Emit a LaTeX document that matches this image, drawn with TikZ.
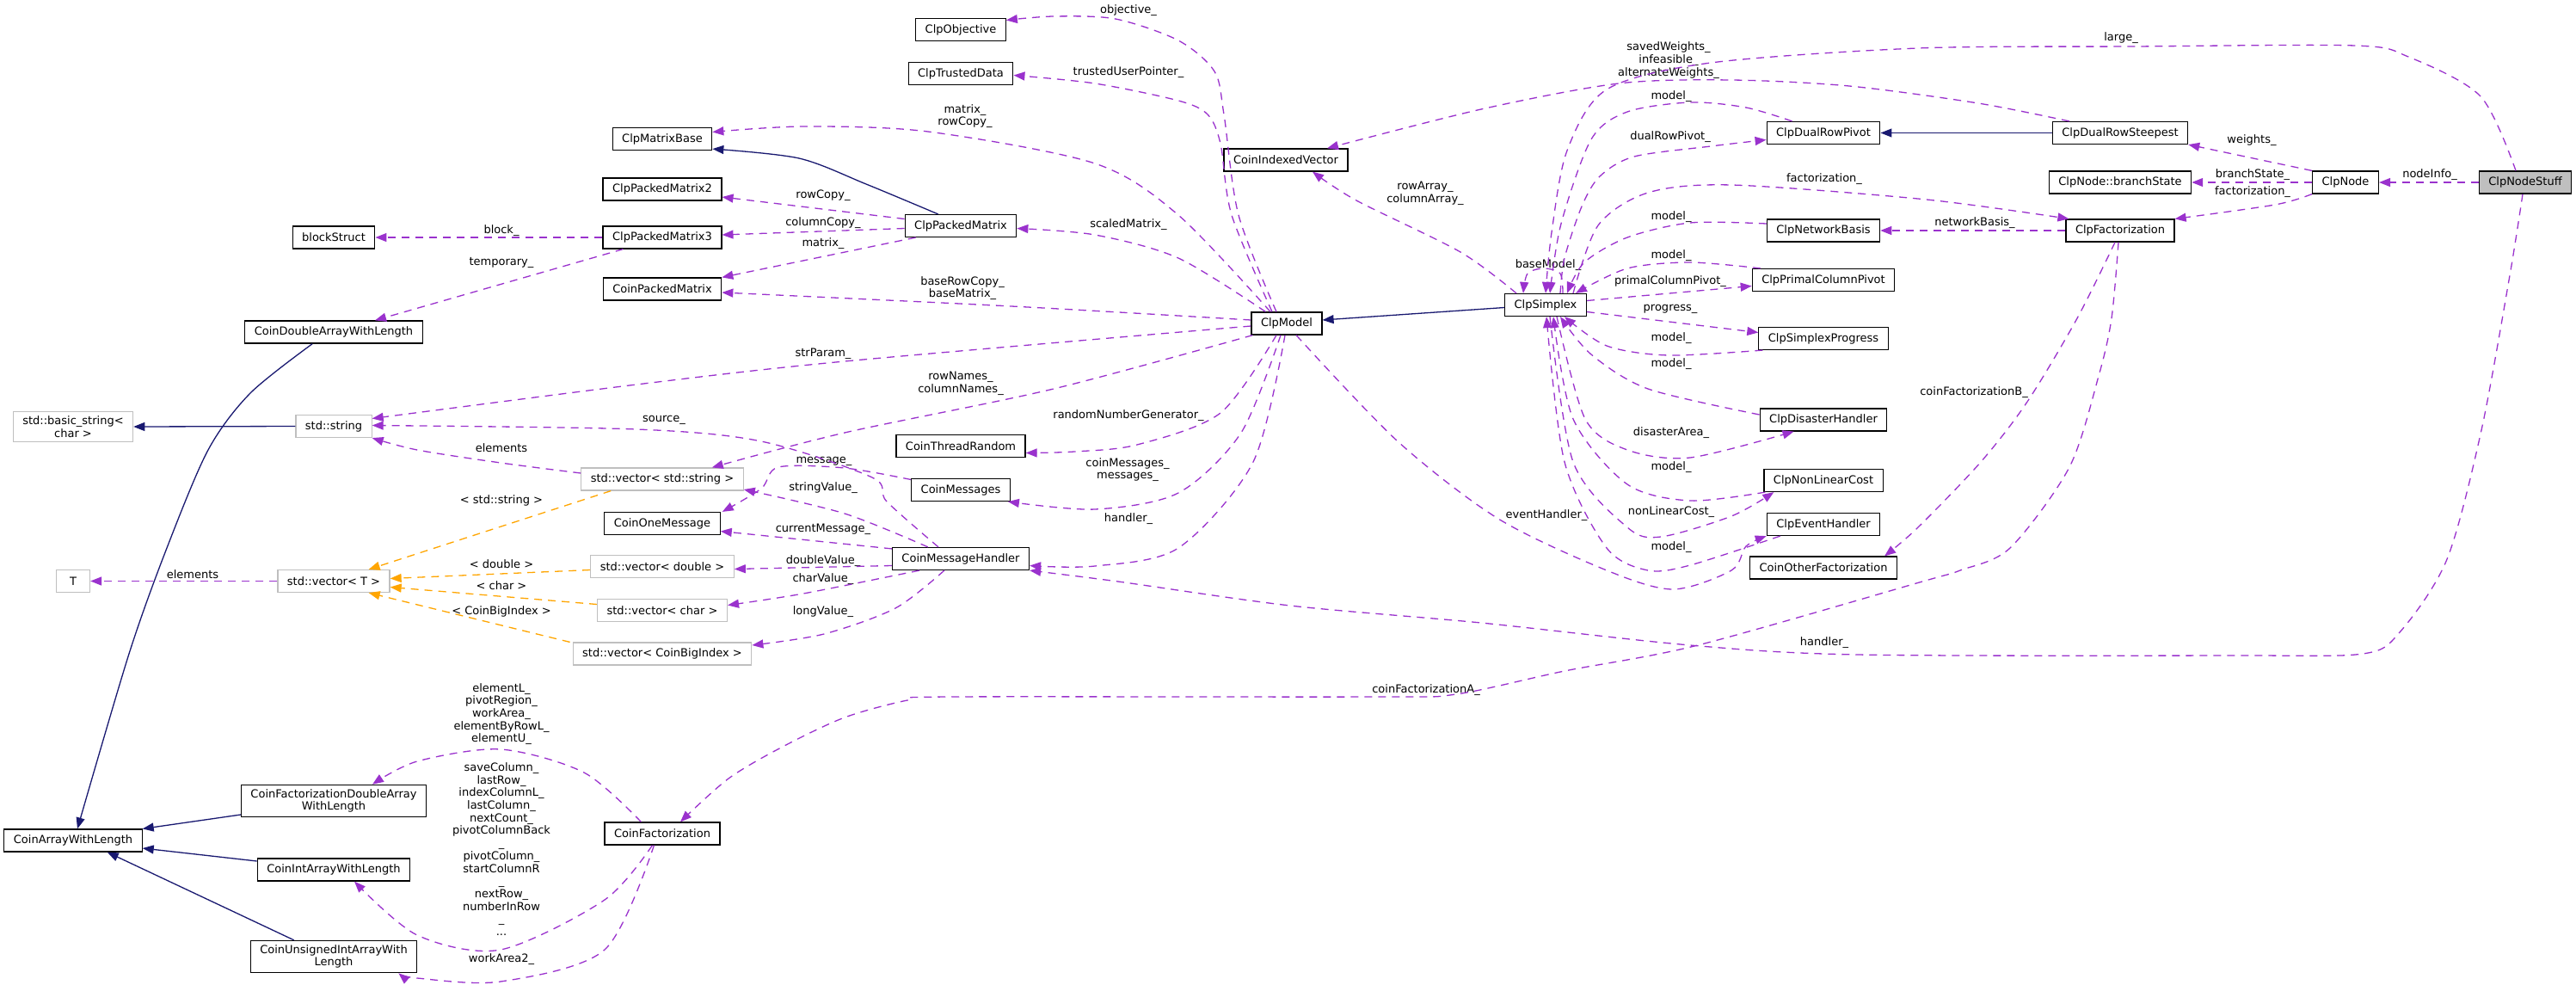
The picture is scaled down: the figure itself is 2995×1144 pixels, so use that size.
\documentclass[tikz,border=0pt]{standalone}
\usepackage{fontspec}
\setmainfont{DejaVu Sans}
\usetikzlibrary{arrows.meta,calc}
\definecolor{pcol}{HTML}{9A32CD}
\definecolor{ncol}{HTML}{191970}
\definecolor{ocol}{HTML}{FFA500}
\definecolor{gcol}{HTML}{BFBFBF}
\begin{document}
\begin{tikzpicture}[x=1pt,y=-1pt, font=\fontsize{13}{14.7}\selectfont,
 cls/.style={draw=black, line width=1.2pt, fill=white, inner xsep=11pt, inner ysep=5pt, minimum height=26pt, align=center},
 ext/.style={cls, draw=gcol},
 lbl/.style={inner sep=0pt, align=center},
 use/.style={draw=pcol, line width=1.3pt, dash pattern=on 9pt off 7pt, -{Triangle[length=13pt,width=10pt]}, pcol},
 inh/.style={draw=ncol, line width=1.3pt, -{Triangle[length=13pt,width=10pt]}, ncol},
 tpl/.style={draw=ocol, line width=1.3pt, dash pattern=on 9pt off 7pt, -{Triangle[length=13pt,width=10pt]}, ocol},
 sm/.style={smooth, tension=0.5}
]
\useasboundingbox (0,0) rectangle (2995,1144);
% ---------- nodes ----------
\node[cls,fill=gcol] (NS) at (2936,212) {ClpNodeStuff};
\node[cls] (ND) at (2727,212) {ClpNode};
\node[cls] (DRS) at (2465,154.5) {ClpDualRowSteepest};
\node[cls] (BRS) at (2465,212) {ClpNode::branchState};
\node[cls] (CFac) at (2465,268) {ClpFactorization};
\node[cls] (DRP) at (2120,154.5) {ClpDualRowPivot};
\node[cls] (NB) at (2120,268) {ClpNetworkBasis};
\node[cls] (PCP) at (2120,325.5) {ClpPrimalColumnPivot};
\node[cls] (SP) at (2120,393.5) {ClpSimplexProgress};
\node[cls] (DH) at (2120,488) {ClpDisasterHandler};
\node[cls] (NLC) at (2120,558.5) {ClpNonLinearCost};
\node[cls] (EH) at (2120,609.5) {ClpEventHandler};
\node[cls] (COF) at (2120,660) {CoinOtherFactorization};
\node[cls] (SX) at (1797,354.5) {ClpSimplex};
\node[cls] (CIV) at (1495,186) {CoinIndexedVector};
\node[cls] (CMo) at (1496,376) {ClpModel};
\node[cls] (OBJ) at (1117,34.5) {ClpObjective};
\node[cls] (TD) at (1117,85.5) {ClpTrustedData};
\node[cls] (CPM) at (1117,262.5) {ClpPackedMatrix};
\node[cls] (CTR) at (1117,518.5) {CoinThreadRandom};
\node[cls] (CMs) at (1117,569.5) {CoinMessages};
\node[cls] (CMH) at (1117,649.5) {CoinMessageHandler};
\node[cls] (CMB) at (770,161.5) {ClpMatrixBase};
\node[cls] (CPM2) at (770,220) {ClpPackedMatrix2};
\node[cls] (CPM3) at (770,276) {ClpPackedMatrix3};
\node[cls] (CoPM) at (770,336) {CoinPackedMatrix};
\node[cls] (COM) at (770,608.5) {CoinOneMessage};
\node[cls] (CF) at (770,969) {CoinFactorization};
\node[cls] (BLK) at (388,276) {blockStruct};
\node[cls] (CDA) at (388,386) {CoinDoubleArrayWithLength};
\node[cls] (CFDA) at (388,931) {CoinFactorizationDoubleArray\\WithLength};
\node[cls] (CIA) at (388,1011) {CoinIntArrayWithLength};
\node[cls] (CUIA) at (388,1112) {CoinUnsignedIntArrayWith\\Length};
\node[cls] (CAWL) at (85,977) {CoinArrayWithLength};
\node[ext] (BSTR) at (85,496) {std::basic\_string<\\char >};
\node[ext] (STR) at (388,495.5) {std::string};
\node[ext] (VT) at (388,675.5) {std::vector< T >};
\node[ext,minimum width=39pt] (TT) at (85,675.5) {T};
\node[ext] (VS) at (770,557) {std::vector< std::string >};
\node[ext] (VD) at (770,658.5) {std::vector< double >};
\node[ext] (VC) at (770,709.5) {std::vector< char >};
\node[ext] (VB) at (770,760) {std::vector< CoinBigIndex >};
% ---------- labels ----------
\node[lbl] (l1) at (2825,203) {nodeInfo\_};
\node[lbl] (l2) at (2466,44) {large\_};
\node[lbl] (l3) at (2121,747) {handler\_};
\node[lbl] (l4) at (2618,163) {weights\_};
\node[lbl] (l5) at (2619,203) {branchState\_};
\node[lbl] (l6) at (2619,223) {factorization\_};
\node[lbl] (l7) at (1940,70) {savedWeights\_\\infeasible\_\\alternateWeights\_};
\node[lbl] (l8) at (1943,112) {model\_};
\node[lbl] (l9) at (1942,159) {dualRowPivot\_};
\node[lbl] (l10) at (2121,208) {factorization\_};
\node[lbl] (l11) at (1943,252) {model\_};
\node[lbl] (l12) at (2296,259) {networkBasis\_};
\node[lbl] (l13) at (1943,297) {model\_};
\node[lbl] (l14) at (1942,327) {primalColumnPivot\_};
\node[lbl] (l15) at (1942,359) {progress\_};
\node[lbl] (l16) at (1943,393) {model\_};
\node[lbl] (l17) at (1943,423) {model\_};
\node[lbl] (l18) at (1943,503) {disasterArea\_};
\node[lbl] (l19) at (1943,543) {model\_};
\node[lbl] (l20) at (1943,595) {nonLinearCost\_};
\node[lbl] (l21) at (1943,636) {model\_};
\node[lbl] (l22) at (1798,599) {eventHandler\_};
\node[lbl] (l23) at (2295,456) {coinFactorizationB\_};
\node[lbl] (l24) at (1658,802) {coinFactorizationA\_};
\node[lbl] (l25) at (1800,308) {baseModel\_};
\node[lbl] (l26) at (1657,224.5) {rowArray\_\\columnArray\_};
\node[lbl] (l27) at (1312,12) {objective\_};
\node[lbl] (l28) at (1312,84) {trustedUserPointer\_};
\node[lbl] (l29) at (1122,135) {matrix\_\\rowCopy\_};
\node[lbl] (l30) at (1312,261) {scaledMatrix\_};
\node[lbl] (l31) at (1119,335) {baseRowCopy\_\\baseMatrix\_};
\node[lbl] (l32) at (957,411) {strParam\_};
\node[lbl] (l33) at (1117,446) {rowNames\_\\columnNames\_};
\node[lbl] (l34) at (1312,483) {randomNumberGenerator\_};
\node[lbl] (l35) at (1311,546) {coinMessages\_\\messages\_};
\node[lbl] (l36) at (1312,603) {handler\_};
\node[lbl] (l37) at (957,227) {rowCopy\_};
\node[lbl] (l38) at (957,259) {columnCopy\_};
\node[lbl] (l39) at (957,283) {matrix\_};
\node[lbl] (l40) at (583,268) {block\_};
\node[lbl] (l41) at (583,305) {temporary\_};
\node[lbl] (l42) at (583,521) {elements};
\node[lbl] (l43) at (224,668) {elements};
\node[lbl] (l44) at (583,582) {< std::string >};
\node[lbl] (l45) at (583,656) {< double >};
\node[lbl] (l46) at (583,681) {< char >};
\node[lbl] (l47) at (583,711) {< CoinBigIndex >};
\node[lbl] (l48) at (772,488) {source\_};
\node[lbl] (l49) at (958,536) {message\_};
\node[lbl] (l50) at (957,567) {stringValue\_};
\node[lbl] (l51) at (957,615) {currentMessage\_};
\node[lbl] (l52) at (957,652) {doubleValue\_};
\node[lbl] (l53) at (957,673) {charValue\_};
\node[lbl] (l54) at (957,711) {longValue\_};
\node[lbl] (l55) at (583,830) {elementL\_\\pivotRegion\_\\workArea\_\\elementByRowL\_\\elementU\_};
\node[lbl] (l56) at (583,987) {saveColumn\_\\lastRow\_\\indexColumnL\_\\lastColumn\_\\nextCount\_\\pivotColumnBack\\\_\\pivotColumn\_\\startColumnR\\\_\\nextRow\_\\numberInRow\\\_\\...};
\node[lbl] (l57) at (583,1115) {workArea2\_};
% ---------- edges ----------
\draw[use] (NS.west) -- (ND.east);
\draw[use] plot[sm] coordinates {($(NS.north)+(-11,0)$) (2884,112) (2800,66) (2738,53) (2480,54) (2230,56) (1989,73) (1868,104) (1822,175) (1804,270) (SX.north)};
\draw[use] plot[sm] coordinates {($(NS.south)+(-3,0)$) (2918,320) (2885,500) (2845,650) (2790,735) (2747,760) (2600,762) (2160,761) (1965,750) (1722,724) (1500,704) (1300,676) (CMH.south east)};
\draw[use] (ND.north west) -- (DRS.south east);
\draw[use] (ND.west) -- (BRS.east);
\draw[use] plot[sm] coordinates {(ND.south west) (2645,238) (CFac.north east)};
\draw[use] plot[sm] coordinates {($(DRS.north west)+(20,0)$) (2300,120) (2150,100) (2013,93) (1882,97) (1722,127) ($(CIV.north)+(48,0)$)};
\draw[inh] (DRS.west) -- (DRP.east);
\draw[use] plot[sm] coordinates {($(DRP.north west)+(30,0)$) (2030,125) (1965,119) (1892,130) (1850,162) (1815,260) ($(SX.north)+(5,0)$)};
\draw[use] plot[sm] coordinates {($(SX.north)+(17,0)$) (1819,300) (1839,240) (1860,205) (1900,182) (1989,170) ($(DRP.west)+(0,8)$)};
\draw[use] plot[sm] coordinates {($(SX.north)+(32,0)$) (1858,262) (1916,224) (2013,215) (2240,232) ($(CFac.north west)+(4,0)$)};
\draw[use] plot[sm] coordinates {($(NB.west)+(0,-8)$) (1965,259) (1892,276) (1842,305) ($(SX.north)+(25,0)$)};
\draw[use] (CFac.west) -- (NB.east);
\draw[use] plot[sm] coordinates {($(PCP.north west)+(10,0)$) (1965,305) (1892,312) ($(SX.north east)+(-13,0)$)};
\draw[use] ($(SX.east)+(0,-5)$) -- ($(PCP.west)+(0,7)$);
\draw[use] ($(SX.east)+(0,8)$) -- ($(SP.west)+(0,-7)$);
\draw[use] plot[sm] coordinates {($(SP.south west)+(5,0)$) (1940,413) (1868,402) ($(SX.south)+(22,0)$)};
\draw[use] plot[sm] coordinates {($(DH.west)+(0,-6)$) (1916,452) (1850,412) ($(SX.south)+(17,0)$)};
\draw[use] plot[sm] coordinates {($(SX.south)+(13,0)$) (1843,487) (1892,523) (1965,532) ($(DH.south west)+(40,0)$)};
\draw[use] plot[sm] coordinates {($(NLC.south west)+(2,0)$) (1965,582) (1892,563) (1829,487) ($(SX.south)+(9,0)$)};
\draw[use] plot[sm] coordinates {($(SX.south)+(5,0)$) (1829,537) (1892,613) (1931,624) (2013,600) ($(NLC.south west)+(12,0)$)};
\draw[use] plot[sm] coordinates {($(EH.south west)+(16,0)$) (1965,657) (1916,663) (1868,637) (1819,537) ($(SX.south)+(1,0)$)};
\draw[use] plot[sm] coordinates {($(CMo.south)+(11,0)$) (1625,513) (1742,603) (1868,663) (1945,685) (2013,663) (2030,635) (EH.south west)};
\draw[use] plot[sm] coordinates {($(CFac.south)+(-6,0)$) (2415,370) (2357,467) (2303,537) (2230,613) ($(COF.north east)+(-15,0)$)};
\draw[use] plot[sm] coordinates {($(CFac.south)+(-2,0)$) (2455,370) (2440,437) (2406,543) (2337,637) (2279,663) (2235,676) (1974,750) (1819,780) (1693,807) (1600,810) (1104,810) (1055,814) (982,834) (910,868) (847,905) ($(CF.north)+(21,0)$)};
\draw[use] plot[sm] coordinates {($(SX.north)+(20,0)$) (1814,318) (1795,312) (1776,318) ($(SX.north)+(-26,0)$)};
\draw[use] plot[sm] coordinates {($(SX.north west)+(14,0)$) (1698,293) (1577,233) ($(CIV.south)+(31,0)$)};
\draw[inh] ($(SX.west)+(0,3)$) -- ($(CMo.east)+(0,-4)$);
\draw[use] plot[sm] coordinates {($(CMo.north)+(-12,0)$) (1440,250) (1423,133) (1412,83) (1370,47) (1297,22) (1225,19) ($(OBJ.east)+(0,-11)$)};
\draw[use] plot[sm] coordinates {($(CMo.north)+(-17,0)$) (1432,250) (1419,167) (1404,133) (1370,117) (1273,97) ($(TD.east)+(0,2)$)};
\draw[use] plot[sm] coordinates {($(CMo.north)+(-19,0)$) (1370,250) (1273,190) (1079,153) (934,147) ($(CMB.east)+(0,-8)$)};
\draw[use] plot[sm] coordinates {($(CMo.north west)+(17,0)$) (1370,300) (1273,273) ($(CPM.east)+(0,3)$)};
\draw[use] plot[sm] coordinates {($(CMo.west)+(0,-4)$) (1176,356) ($(CoPM.east)+(0,4)$)};
\draw[use] plot[sm] coordinates {($(CMo.west)+(0,3)$) (982,420) (740,447) ($(STR.east)+(0,-9)$)};
\draw[use] plot[sm] coordinates {($(CMo.south west)+(2,0)$) (1225,452) (982,503) ($(VS.north east)+(-37,0)$)};
\draw[use] plot[sm] coordinates {($(CMo.south)+(-12,0)$) (1419,480) (1322,517) (1249,525) ($(CTR.east)+(0,8)$)};
\draw[use] plot[sm] coordinates {($(CMo.south)+(-7,0)$) (1443,503) (1370,573) (1273,592) ($(CMs.south east)+(-3,0)$)};
\draw[use] plot[sm] coordinates {($(CMo.south)+(-2,0)$) (1457,537) (1370,637) (1273,658) ($(CMH.east)+(0,8)$)};
\draw[inh] plot[sm] coordinates {($(CPM.north west)+(39,0)$) (1007,214) (929,184) ($(CMB.south east)+(0,-2)$)};
\draw[use] ($(CPM.west)+(0,-8)$) -- ($(CPM2.east)+(0,9)$);
\draw[use] ($(CPM.west)+(0,3)$) -- ($(CPM3.east)+(0,-3)$);
\draw[use] ($(CPM.south west)+(13,0)$) -- (CoPM.north east);
\draw[use] (CPM3.west) -- (BLK.east);
\draw[use] ($(CPM3.south west)+(24,0)$) -- ($(CDA.north)+(48,0)$);
\draw[inh] plot[sm] coordinates {($(CDA.south west)+(79,0)$) (291,457) (242,523) (194,637) (150,760) ($(CAWL.north)+(5,0)$)};
\draw[inh] (STR.west) -- (BSTR.east);
\draw[use] plot[sm] coordinates {($(VS.west)+(0,-7)$) (582,538) (485,523) (STR.south east)};
\draw[use] (VT.west) -- (TT.east);
\draw[tpl] ($(VS.south west)+(35,0)$) -- ($(VT.north east)+(-25,0)$);
\draw[tpl] ($(VD.west)+(0,4)$) -- ($(VT.east)+(0,-3)$);
\draw[tpl] ($(VC.west)+(0,-7)$) -- ($(VT.east)+(0,7)$);
\draw[tpl] ($(VB.north west)+(-3,0)$) -- ($(VT.south east)+(-25,0)$);
\draw[use] plot[sm] coordinates {($(CMH.north)+(-26,0)$) (1031,583) (1014,555) (885,513) (740,499) ($(STR.east)+(0,-1)$)};
\draw[use] plot[sm] coordinates {($(CMs.west)+(0,-12)$) (982,544) (905,543) (885,568) ($(COM.north east)+(2,0)$)};
\draw[use] plot[sm] coordinates {($(CMH.north west)+(42,0)$) (982,597) ($(VS.east)+(0,12)$)};
\draw[use] ($(CMH.north west)+(0,2)$) -- ($(COM.east)+(0,9)$);
\draw[use] ($(CMH.west)+(0,8)$) -- ($(VD.east)+(0,3)$);
\draw[use] plot[sm] coordinates {($(CMH.south west)+(32,0)$) (934,690) ($(VC.east)+(0,-6)$)};
\draw[use] plot[sm] coordinates {($(CMH.south west)+(61,0)$) (1041,707) (958,737) ($(VB.east)+(0,-10)$)};
\draw[use] plot[sm] coordinates {($(CF.north west)+(43,0)$) (679,898) (582,871) (485,885) ($(CFDA.north)+(45,0)$)};
\draw[use] plot[sm] coordinates {($(CF.south west)+(56,0)$) (703,1046) (582,1104) (485,1087) ($(CIA.south)+(24,0)$)};
\draw[use] plot[sm] coordinates {($(CF.south west)+(58,0)$) (703,1104) (582,1141) (485,1137) ($(CUIA.south east)+(-22,0)$)};
\draw[inh] ($(CFDA.west)+(0,16)$) -- (CAWL.north east);
\draw[inh] ($(CIA.west)+(0,-10)$) -- ($(CAWL.east)+(0,9)$);
\draw[inh] ($(CUIA.north west)+(51,0)$) -- ($(CAWL.south east)+(-41,0)$);
\end{tikzpicture}
\end{document}
